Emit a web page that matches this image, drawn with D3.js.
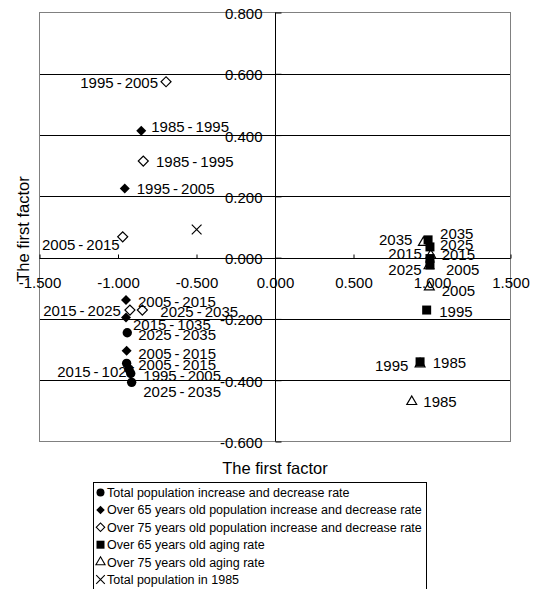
<!DOCTYPE html>
<html><head><meta charset="utf-8">
<script src="https://cdn.jsdelivr.net/npm/d3@7"></script>
<style>html,body{margin:0;padding:0;background:#fff;} svg{display:block;font-family:"Liberation Sans",Arial,sans-serif;}</style>
</head><body><svg id="c" width="536" height="589"></svg>
<script>
// ---------- data ----------
const seriesNames = [
  "Total population increase and decrease rate",
  "Over 65 years old population increase and decrease rate",
  "Over 75 years old population increase and decrease rate",
  "Over 65 years old aging rate",
  "Over 75 years old aging rate",
  "Total population in 1985"
];
const xTicks = [-1.5, -1, -0.5, 0, 0.5, 1, 1.5];
const xTickLabels = ["-1.500", "-1.000", "-0.500", "0.000", "0.500", "1.000", "1.500"];
const yTicks = [-0.6, -0.4, -0.2, 0, 0.2, 0.4, 0.6, 0.8];
const yTickLabels = ["-0.600", "-0.400", "-0.200", "0.000", "0.200", "0.400", "0.600", "0.800"];
const xTitle = "The first factor";
const yTitle = "The first factor";

const totalRateX = [-0.941, -0.945, -0.930, -0.919, -0.913];
const totalRateY = [-0.245, -0.345, -0.364, -0.378, -0.407];
const totalRateLabels = ["2025-2035", "2005-2015", "2015-1025", "1995-2005", "2025-2035"];

const over65RateX = [-0.852, -0.957, -0.949, -0.949, -0.945];
const over65RateY = [0.414, 0.226, -0.138, -0.195, -0.304];
const over65RateLabels = ["1985-1995", "1995-2005", "2005-2015", "2015-1035", "2005-2015"];

const over75RateX = [-0.694, -0.839, -0.970, -0.924, -0.845];
const over75RateY = [0.574, 0.315, 0.068, -0.171, -0.171];
const over75RateLabels = ["1995-2005", "1985-1995", "2005-2015", "2015-2025", "2025-2035"];

const over65AgingX = [0.975, 0.987, 0.987, 0.987, 0.966, 0.924];
const over65AgingY = [0.058, 0.035, -0.003, -0.024, -0.171, -0.340];
const over65AgingLabels = ["2035", "2025", "2015", "2005", "1995", "1985"];

const over75AgingX = [0.945, 0.981, 0.992, 0.983, 0.924, 0.871];
const over75AgingY = [0.049, -0.027, 0.008, -0.096, -0.347, -0.470];
const over75AgingLabels = ["2035", "2025", "2015", "2005", "1995", "1985"];

const pop1985X = [-0.499];
const pop1985Y = [0.092];

// ---------- label layout (pixel nudges, anchor) ----------
const totalRateLayout = [[11,1.6,"start"],[11.6,1,"start"],[6,2.7,"end"],[12.6,1.7,"start"],[11.6,9.4,"start"]];
const over65RateLayout = [[10,-4,"start"],[12,0.7,"start"],[12,1.7,"start"],[7,7,"start"],[11.6,2.6,"start"]];
const over75RateLayout = [[-8,1,"end"],[12.7,0.7,"start"],[-3,8,"end"],[-9,1,"end"],[18,1.7,"start"]];
const over65AgingLayout = [[12,-6.7,"start"],[10,-2,"start"],[11.7,-3.5,"start"],[16,4.3,"start"],[12.6,1.7,"start"],[12.7,1,"start"]];
const over75AgingLayout = [[-11,-2.7,"end"],[-7.3,3.3,"end"],[-9,-1.7,"end"],[12.4,3.7,"start"],[-11.7,1.7,"end"],[11.6,0,"start"]];

// ---------- drawing ----------
const svg = d3.select("#c");
const x = d3.scaleLinear().domain([-1.5, 1.5]).range([39.5, 510.5]);
const y = d3.scaleLinear().domain([-0.6, 0.8]).range([441.5, 12.5]);

// horizontal gridlines
svg.append("g").selectAll("line")
  .data(yTicks.filter(v => v !== -0.6 && v !== 0.8 && v !== 0))
  .join("line")
  .attr("x1", x(-1.5)).attr("x2", x(1.5))
  .attr("y1", d => Math.round(y(d)) + 0.5).attr("y2", d => Math.round(y(d)) + 0.5)
  .attr("stroke", "#000").attr("stroke-width", 1);

// plot border
svg.append("rect")
  .attr("x", x(-1.5)).attr("y", y(0.8))
  .attr("width", x(1.5) - x(-1.5)).attr("height", y(-0.6) - y(0.8))
  .attr("fill", "none").attr("stroke", "#808080").attr("stroke-width", 1);

const fontFam = '"Liberation Sans", Arial, sans-serif';

// x axis (at y = 0)
const y0 = Math.round(y(0)) + 0.5;
const gx = svg.append("g").attr("transform", `translate(0,${y0})`)
  .call(d3.axisBottom(x).tickValues(xTicks).tickFormat((d, i) => xTickLabels[i]).tickSize(-4).tickPadding(19));
gx.select(".domain").remove();
gx.selectAll(".tick line").attr("stroke", "#000");
gx.selectAll("text").attr("font-size", 15).attr("font-family", fontFam).attr("fill", "#000");
svg.append("line").attr("x1", x(-1.5)).attr("x2", x(1.5)).attr("y1", y0).attr("y2", y0).attr("stroke", "#000");

// y axis (at x = 0)
const x0 = Math.round(x(0)) + 0.5;
const gy = svg.append("g").attr("transform", `translate(${x0},0)`)
  .call(d3.axisLeft(y).tickValues(yTicks).tickFormat((d, i) => yTickLabels[i]).tickSize(-6).tickPadding(13));
gy.select(".domain").remove();
gy.selectAll(".tick line").attr("stroke", "#000");
gy.selectAll("text").attr("font-size", 15).attr("font-family", fontFam).attr("fill", "#000").attr("dy", "0.4em");
svg.append("line").attr("x1", x0).attr("x2", x0).attr("y1", y(0.8)).attr("y2", y(-0.6)).attr("stroke", "#000");

// axis titles
svg.append("text").attr("x", 275).attr("y", 474).attr("text-anchor", "middle")
  .attr("font-size", 16.5).attr("font-family", fontFam).text(xTitle);
svg.append("text").attr("transform", "translate(28.5,229) rotate(-90)").attr("text-anchor", "middle")
  .attr("font-size", 16.5).attr("font-family", fontFam).text(yTitle);

// marker definitions
const sq45 = d3.symbol().type(d3.symbolSquare).size(50)();
const markerDefs = [
  {path: d3.symbol().type(d3.symbolCircle).size(69)(), rot: 0, fill: "#000", stroke: "none"},
  {path: sq45, rot: 45, fill: "#000", stroke: "none"},
  {path: sq45, rot: 45, fill: "none", stroke: "#000"},
  {path: d3.symbol().type(d3.symbolSquare).size(81)(), rot: 0, fill: "#000", stroke: "none"},
  {path: d3.symbol().type(d3.symbolTriangle).size(42)(), rot: 0, fill: "none", stroke: "#000"},
  {path: d3.symbol().type(d3.symbolTimes).size(64)(), rot: 0, fill: "none", stroke: "#000"}
];

const series = [
  {xs: totalRateX, ys: totalRateY, labels: totalRateLabels, layout: totalRateLayout, m: 0},
  {xs: over65RateX, ys: over65RateY, labels: over65RateLabels, layout: over65RateLayout, m: 1},
  {xs: over75RateX, ys: over75RateY, labels: over75RateLabels, layout: over75RateLayout, m: 2},
  {xs: over65AgingX, ys: over65AgingY, labels: over65AgingLabels, layout: over65AgingLayout, m: 3},
  {xs: over75AgingX, ys: over75AgingY, labels: over75AgingLabels, layout: over75AgingLayout, m: 4},
  {xs: pop1985X, ys: pop1985Y, labels: [], layout: [], m: 5}
];

const fmtLabel = s => s.replace(/-/g, "\u2009-\u2009");

// point labels
const gl = svg.append("g");
series.forEach(s => {
  s.labels.forEach((lab, i) => {
    const [dx, dy, anchor] = s.layout[i];
    gl.append("text")
      .attr("x", x(s.xs[i]) + dx).attr("y", y(s.ys[i]) + dy)
      .attr("dy", "0.36em").attr("text-anchor", anchor)
      .attr("font-size", 15).attr("font-family", fontFam).attr("fill", "#000")
      .text(fmtLabel(lab));
  });
});

// markers
const gm = svg.append("g");
series.forEach(s => {
  const md = markerDefs[s.m];
  gm.append("g").selectAll("path")
    .data(s.xs.map((v, i) => [v, s.ys[i]]))
    .join("path")
    .attr("d", md.path)
    .attr("transform", d => `translate(${x(d[0])},${y(d[1])}) rotate(${md.rot})`)
    .attr("fill", md.fill).attr("stroke", md.stroke).attr("stroke-width", 1.2);
});

// legend
const legX = 93.5, legY = 482.5, legW = 333, legH = 110;
const lg = svg.append("g");
lg.append("rect").attr("x", legX).attr("y", legY).attr("width", legW).attr("height", legH)
  .attr("fill", "#fff").attr("stroke", "#000").attr("stroke-width", 1);
const legMarkers = [
  {path: d3.symbol().type(d3.symbolCircle).size(50)(), rot: 0, fill: "#000", stroke: "none"},
  {path: d3.symbol().type(d3.symbolSquare).size(36)(), rot: 45, fill: "#000", stroke: "none"},
  {path: d3.symbol().type(d3.symbolSquare).size(36)(), rot: 45, fill: "none", stroke: "#000"},
  {path: d3.symbol().type(d3.symbolSquare).size(64)(), rot: 0, fill: "#000", stroke: "none"},
  {path: d3.symbol().type(d3.symbolTriangle).size(36)(), rot: 0, fill: "none", stroke: "#000"},
  {path: d3.symbol().type(d3.symbolTimes).size(50)(), rot: 0, fill: "none", stroke: "#000"}
];
seriesNames.forEach((name, i) => {
  const by = 497 + i * 17.4;
  const md = legMarkers[i];
  lg.append("path").attr("d", md.path)
    .attr("transform", `translate(100.5,${by - 4.5}) rotate(${md.rot})`)
    .attr("fill", md.fill).attr("stroke", md.stroke).attr("stroke-width", 1.1);
  lg.append("text").attr("x", 107).attr("y", by)
    .attr("font-size", 12.5).attr("font-family", fontFam).attr("fill", "#000").text(name);
});
</script>
</body></html>
